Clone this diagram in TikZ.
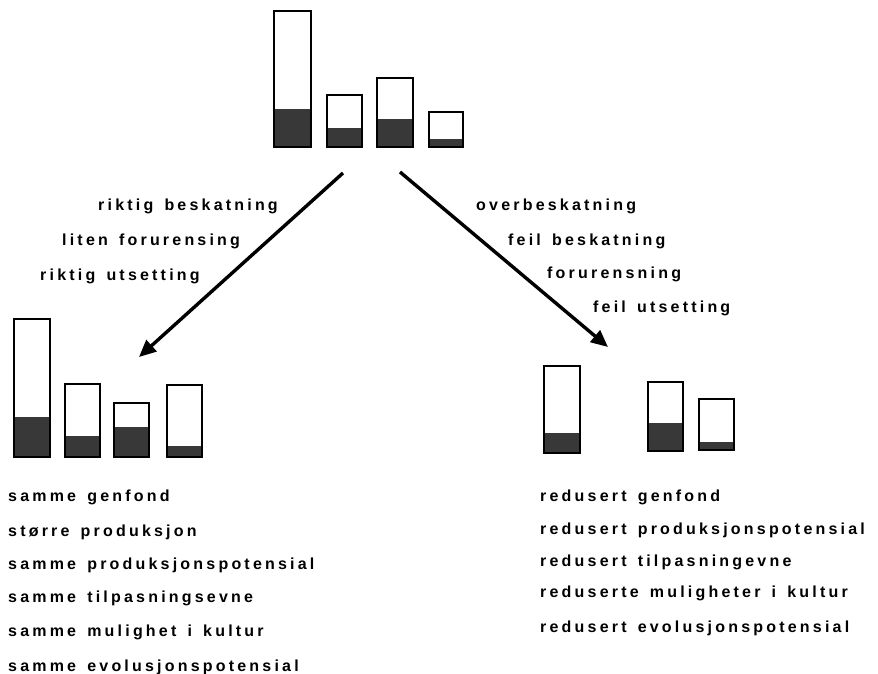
\documentclass[tikz,border=0pt]{standalone}
\usepackage{fontspec}
\newfontfamily\skrift[LetterSpace=20]{Liberation Sans}
\usetikzlibrary{arrows.meta}

\newcommand\mellom{\hspace{0.7em}}

\tikzset{
  stolpe/.style={draw=black, line width=2.2pt},
  mork/.style={fill=black!78},
  tekst/.style={anchor=base west, inner sep=0pt, font=\skrift\bfseries\fontsize{16}{18}\selectfont},
  pil/.style={line width=3.4pt, -{Triangle[length=17pt, width=15pt]}}
}

\begin{document}
\begin{tikzpicture}[x=1pt, y=-1pt]
\useasboundingbox (0,0) rectangle (878,674);

% stolper: venstre, hoeyre, topp, moerk del, bunn
\foreach \xa/\xb/\ya/\yb/\yc in {274/311/11/109/147, 327/362/95/128/147, 377/413/78/119/147, 429/463/112/139/147,
  14/50/319/417/457, 65/100/384/436/457, 114/149/403/427/457, 167/202/385/446/457,
  544/580/366/433/453, 648/683/382/423/451, 699/734/399/442/450}
{
  \fill [mork] (\xa,\yb) rectangle (\xb,\yc);
  \draw [stolpe] (\xa,\ya) rectangle (\xb,\yc);
}

\coordinate (fraV) at (343,173);
\coordinate (tilV) at (139,357);
\coordinate (fraH) at (400,172);
\coordinate (tilH) at (608,347);
\draw [pil] (fraV) -- (tilV);
\draw [pil] (fraH) -- (tilH);

\node [tekst] (v1) at (98,210) {riktig\mellom beskatning};
\node [tekst] (v2) at (62,245) {liten\mellom forurensing};
\node [tekst] (v3) at (40,280) {riktig\mellom utsetting};

\node [tekst] (h1) at (476,210) {overbeskatning};
\node [tekst] (h2) at (508,245) {feil\mellom beskatning};
\node [tekst] (h3) at (547,278) {forurensning};
\node [tekst] (h4) at (593,312) {feil\mellom utsetting};

\node [tekst] (a1) at (8,501) {samme\mellom genfond};
\node [tekst] (a2) at (8,536) {større\mellom produksjon};
\node [tekst] (a3) at (8,569) {samme\mellom produksjonspotensial};
\node [tekst] (a4) at (8,602) {samme\mellom tilpasningsevne};
\node [tekst] (a5) at (8,636) {samme\mellom mulighet\mellom i\mellom kultur};
\node [tekst] (a6) at (8,671) {samme\mellom evolusjonspotensial};

\node [tekst] (b1) at (540,501) {redusert\mellom genfond};
\node [tekst] (b2) at (540,534) {redusert\mellom produksjonspotensial};
\node [tekst] (b3) at (540,566) {redusert\mellom tilpasningevne};
\node [tekst] (b4) at (540,597) {reduserte\mellom muligheter\mellom i\mellom kultur};
\node [tekst] (b5) at (540,632) {redusert\mellom evolusjonspotensial};

\end{tikzpicture}
\end{document}
